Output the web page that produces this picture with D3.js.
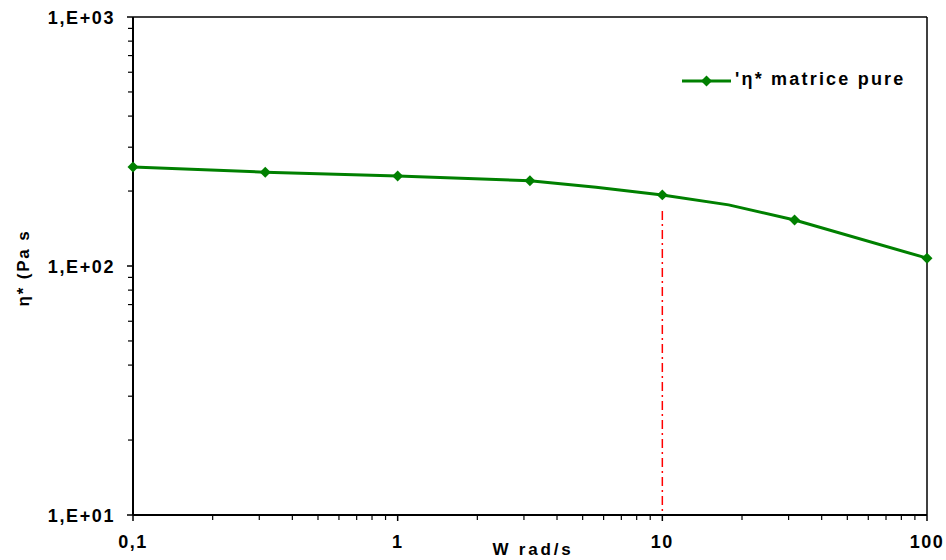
<!DOCTYPE html>
<html>
<head>
<meta charset="utf-8">
<script src="https://cdn.jsdelivr.net/npm/d3@7"></script>
<style>
  html, body { margin: 0; padding: 0; background: #fff; }
  svg { display: block; }
  text { font-family: Arial, "Liberation Sans", sans-serif; font-weight: bold; fill: #000; }
</style>
</head>
<body>
<svg id="chart" width="946" height="560"></svg>
<script>
// ---- data ----
const omega = [0.1, 0.316, 1, 3.16, 5.62, 10, 17.8, 31.6, 100];
const eta   = [250, 238, 230, 220, 207, 193, 176, 153, 107.5];
const hasMarker = [true, true, true, true, false, true, false, true, true];
const seriesName = "'η* matrice pure";
const xTickValues = [0.1, 1, 10, 100];
const xTickLabels = ["0,1", "1", "10", "100"];
const yTickValues = [10, 100, 1000];
const yTickLabels = ["1,E+01", "1,E+02", "1,E+03"];
const xLabel = "W rad/s";
const yLabel = "η* (Pa s";
const markerOmega = 10;

// ---- layout ----
const svg = d3.select("#chart");
const L = 133, R = 927, T = 17, B = 515;
const x = d3.scaleLog().domain([0.1, 100]).range([L, R]);
const y = d3.scaleLog().domain([10, 1000]).range([B, T]);

// minor ticks
const xMinor = [];
for (let d = 0.1; d < 100; d *= 10) for (let k = 2; k <= 9; k++) xMinor.push(d * k);
const yMinor = [];
for (let d = 10; d < 1000; d *= 10) for (let k = 2; k <= 9; k++) yMinor.push(d * k);

// frame top / right
svg.append("line").attr("x1", L).attr("x2", R).attr("y1", T).attr("y2", T)
  .attr("stroke", "#000").attr("stroke-width", 1.5);
svg.append("line").attr("x1", R).attr("x2", R).attr("y1", T).attr("y2", B)
  .attr("stroke", "#000").attr("stroke-width", 1.5);

// x axis
const xAxisG = svg.append("g").attr("transform", `translate(0,${B})`);
xAxisG.append("line").attr("x1", L).attr("x2", R).attr("stroke", "#000").attr("stroke-width", 2);
xAxisG.selectAll("line.minor").data(xMinor).enter().append("line")
  .attr("x1", d => x(d)).attr("x2", d => x(d)).attr("y1", 0).attr("y2", 5)
  .attr("stroke", "#000").attr("stroke-width", 1.2);
xAxisG.selectAll("line.major").data(xTickValues).enter().append("line")
  .attr("x1", d => x(d)).attr("x2", d => x(d)).attr("y1", 0).attr("y2", 6)
  .attr("stroke", "#000").attr("stroke-width", 1.5);
xAxisG.selectAll("text").data(xTickValues).enter().append("text")
  .attr("x", d => x(d)).attr("y", 33).attr("text-anchor", "middle")
  .attr("font-size", 18).attr("letter-spacing", 1.5)
  .text((d, i) => xTickLabels[i]);

// y axis
const yAxisG = svg.append("g").attr("transform", `translate(${L},0)`);
yAxisG.append("line").attr("y1", T).attr("y2", B).attr("stroke", "#000").attr("stroke-width", 2);
yAxisG.selectAll("line.minor").data(yMinor).enter().append("line")
  .attr("y1", d => y(d)).attr("y2", d => y(d)).attr("x1", 0).attr("x2", -5)
  .attr("stroke", "#000").attr("stroke-width", 1.2);
yAxisG.selectAll("line.major").data(yTickValues).enter().append("line")
  .attr("y1", d => y(d)).attr("y2", d => y(d)).attr("x1", 0).attr("x2", -6)
  .attr("stroke", "#000").attr("stroke-width", 1.5);
yAxisG.selectAll("text").data(yTickValues).enter().append("text")
  .attr("x", -18).attr("y", d => y(d) + 6.5).attr("text-anchor", "end")
  .attr("font-size", 18).attr("letter-spacing", 1.6)
  .text((d, i) => yTickLabels[i]);

// axis titles
svg.append("text").attr("x", 533).attr("y", 555).attr("text-anchor", "middle")
  .attr("font-size", 17).attr("letter-spacing", 2.8).text(xLabel);
svg.append("text").attr("transform", "translate(29,268) rotate(-90)")
  .attr("text-anchor", "middle").attr("font-size", 17).attr("letter-spacing", 1.8).text(yLabel);

// red dash-dot reference line
const idx10 = omega.indexOf(markerOmega);
svg.append("line")
  .attr("x1", x(markerOmega)).attr("x2", x(markerOmega))
  .attr("y1", y(eta[idx10]) + 16).attr("y2", B)
  .attr("stroke", "#ff0000").attr("stroke-width", 1.5)
  .attr("stroke-dasharray", "9,4,2,4");

// series line
const pts = omega.map((o, i) => ({ o, v: eta[i], m: hasMarker[i] }));
svg.append("path").datum(pts)
  .attr("fill", "none").attr("stroke", "#008000").attr("stroke-width", 3)
  .attr("d", d3.line().x(d => x(d.o)).y(d => y(d.v)));

const diamond = d3.symbol().type(d3.symbolSquare).size(60);
svg.selectAll("path.mk").data(pts.filter(p => p.m)).enter().append("path")
  .attr("class", "mk")
  .attr("transform", d => `translate(${x(d.o)},${y(d.v)}) rotate(45)`)
  .attr("d", diamond).attr("fill", "#008000");

// legend
const lg = svg.append("g").attr("transform", "translate(682,81)");
lg.append("line").attr("x1", 0).attr("x2", 49).attr("stroke", "#008000").attr("stroke-width", 3);
lg.append("path").attr("transform", "translate(24.5,0) rotate(45)").attr("d", diamond).attr("fill", "#008000");
lg.append("text").attr("x", 53).attr("y", 4).attr("font-size", 18).attr("letter-spacing", 2.2).text(seriesName);
</script>
</body>
</html>
